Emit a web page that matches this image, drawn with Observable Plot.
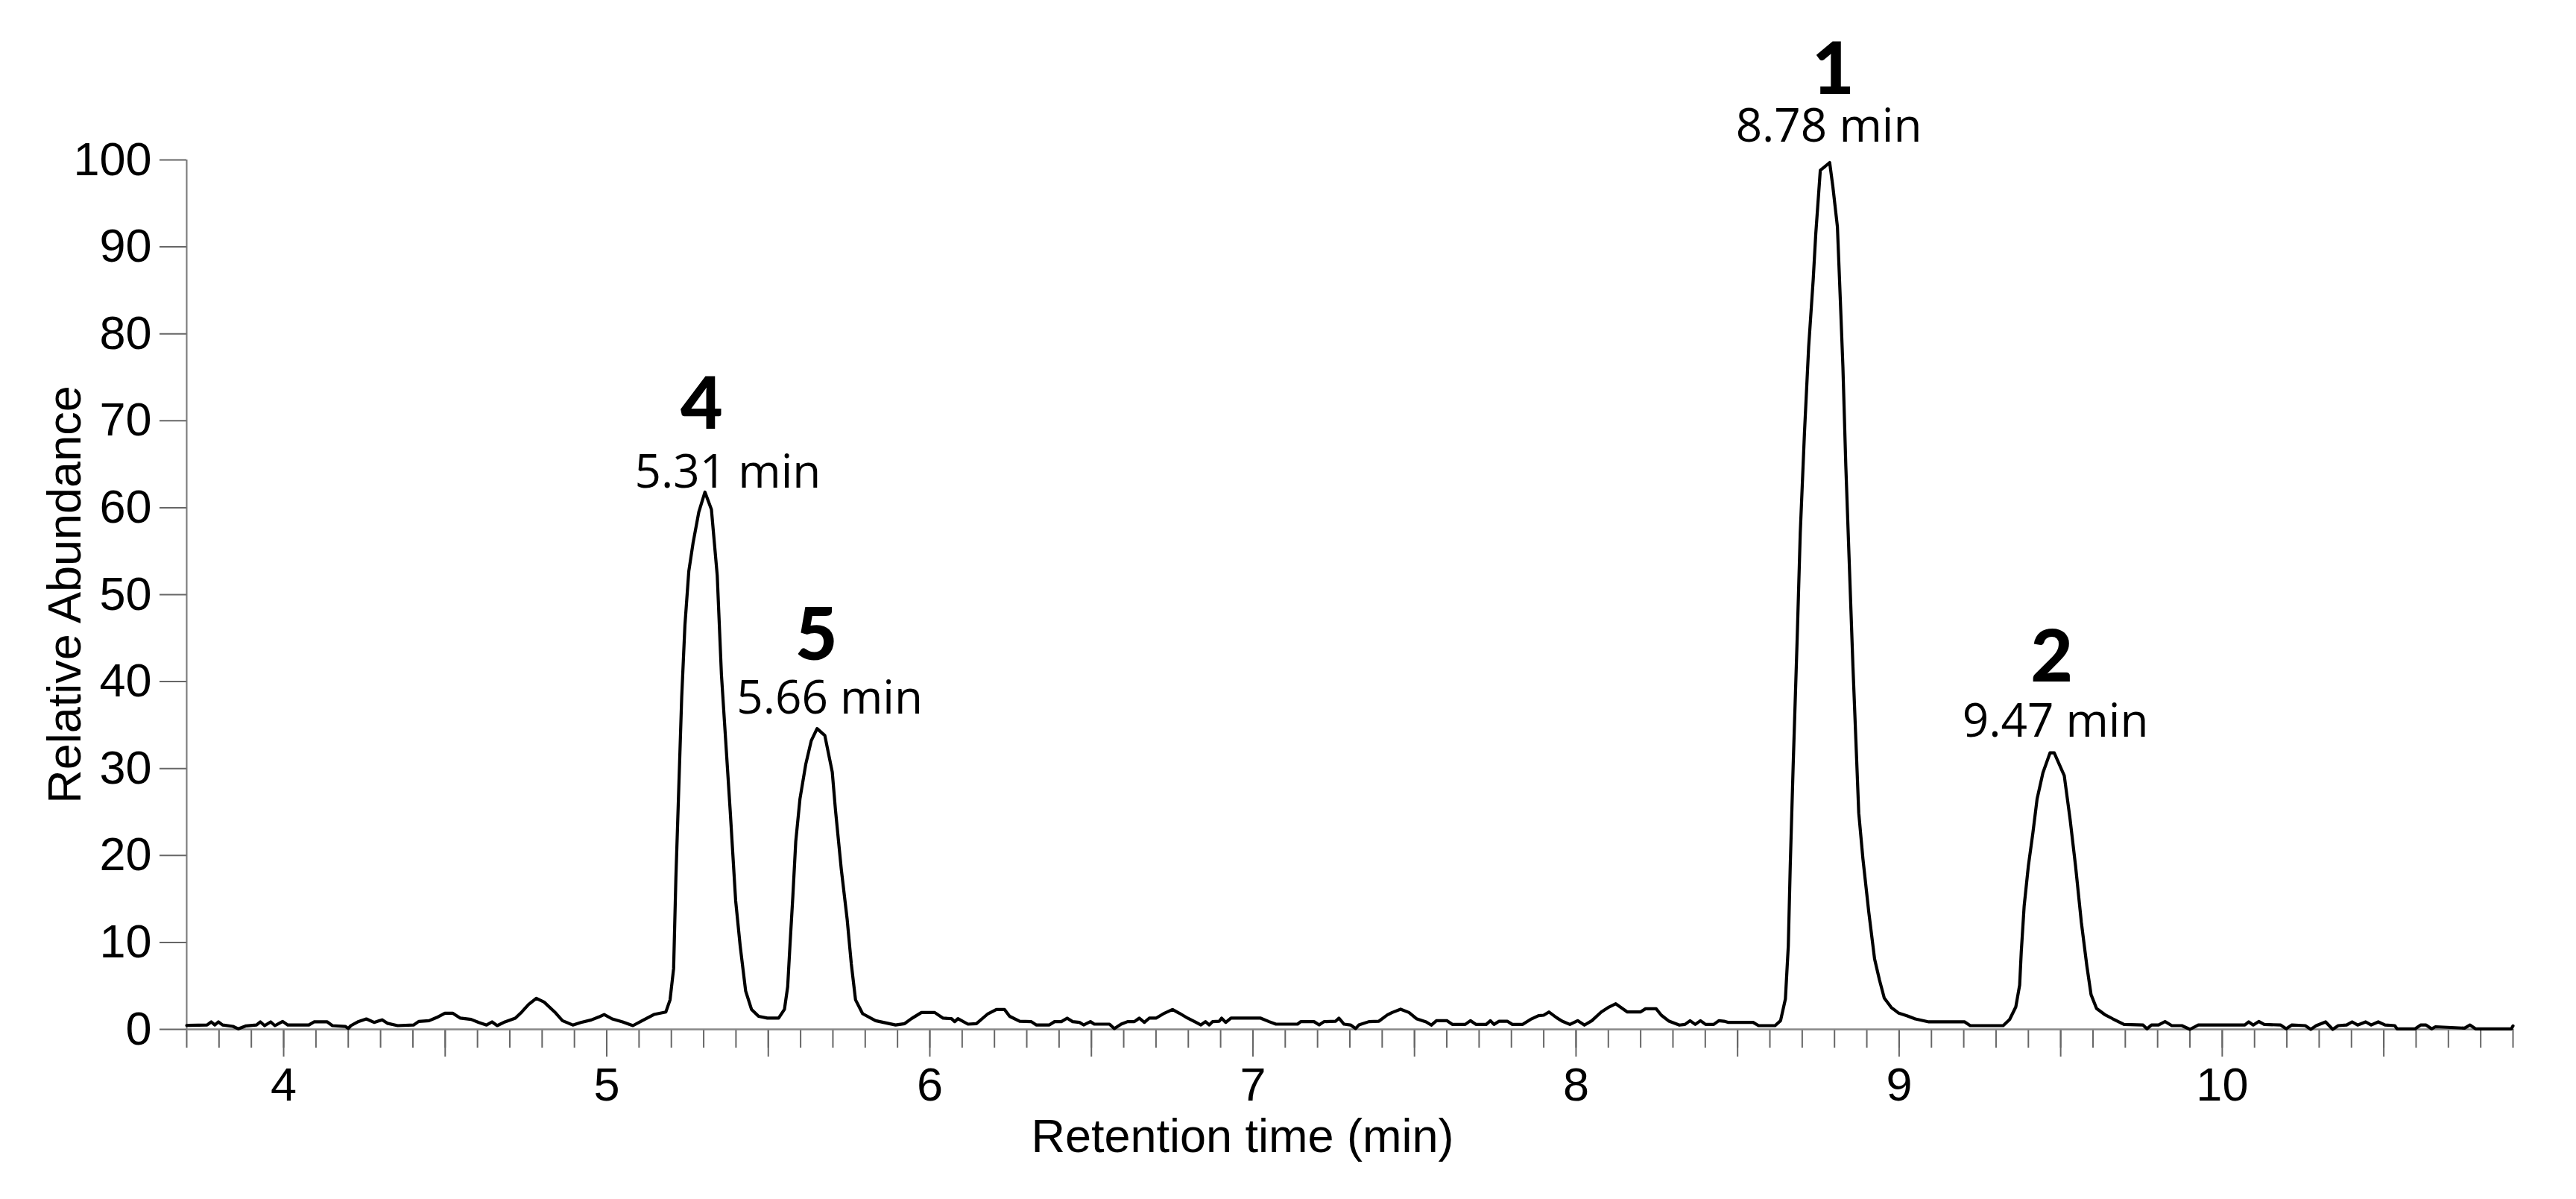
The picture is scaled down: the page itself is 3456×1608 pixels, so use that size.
<!DOCTYPE html>
<html><head><meta charset="utf-8">
<script src="https://cdn.jsdelivr.net/npm/d3@7"></script>
<script src="https://cdn.jsdelivr.net/npm/@observablehq/plot@0.6"></script>
<style>
html,body{margin:0;padding:0;background:#fff;}
#chart{width:3456px;height:1608px;overflow:hidden;}
</style></head><body><div id="chart"></div>
<script>
// ---- data ----
const retentionTime = [
3.70,3.763,3.776,3.787,3.798,3.811,3.843,3.860,3.884,3.916,3.928,3.941,3.960,3.973,3.997,4.013,4.078,4.094,4.135,4.151,4.191,4.200,4.208,4.232,4.256,4.280,4.305,4.321,4.353,4.402,4.418,4.450,4.474,4.499,4.523,4.547,4.580,4.604,4.628,4.645,4.661,4.685,4.717,4.737,4.758,4.782,4.806,4.839,4.863,4.895,4.920,4.952,4.976,4.992,5.017,5.049,5.081,5.114,5.146,5.183,
5.196,5.207,5.214,5.223,5.232,5.242,5.254,5.267,5.285,5.304,5.324,5.342,5.355,5.364,5.382,5.399,5.413,5.430,5.448,5.470,5.497,5.532,5.550,5.560,5.567,5.576,5.585,5.598,5.616,5.633,5.651,5.675,5.698,5.708,5.726,5.744,5.757,5.770,5.792,5.832,5.894,
5.922,5.943,5.974,6.015,6.041,6.067,6.077,6.087,6.118,6.144,6.180,6.206,6.231,6.247,6.278,6.314,6.329,6.370,6.386,6.407,6.425,6.442,6.463,6.476,6.497,6.509,6.556,6.571,6.592,6.612,6.633,6.648,6.664,6.679,6.700,6.726,6.751,6.772,6.798,6.824,6.839,6.853,6.865,6.875,6.896,6.903,6.916,6.932,7.024,7.050,7.071,7.138,7.148,7.189,7.205,7.220,7.256,7.266,7.282,7.302,7.318,7.328,7.359,7.390,7.416,7.431,7.457,7.483,7.506,
7.536,7.552,7.568,7.600,7.617,7.657,7.673,7.690,7.722,7.735,7.746,7.762,7.787,7.803,7.835,7.859,7.884,7.900,7.916,7.940,7.957,7.981,8.005,8.026,8.049,8.078,8.102,8.123,8.159,8.199,8.215,8.248,8.264,8.288,8.320,8.337,8.353,8.369,8.385,8.401,8.426,8.442,8.458,8.472,8.548,8.565,8.616,8.633,
8.648,8.657,8.663,8.672,8.685,8.694,8.707,8.720,8.734,8.742,8.756,8.769,8.785,8.795,8.809,8.818,8.826,8.835,8.846,8.857,8.866,8.875,8.888,8.906,8.924,8.939,8.954,8.976,8.999,9.024,9.050,9.092,9.203,9.220,9.322,9.342,9.361,9.373,9.378,9.387,9.400,9.414,9.427,9.445,9.467,9.480,9.511,9.529,9.546,9.564,9.581,9.594,9.611,9.636,9.662,9.696,9.755,9.767,9.781,9.803,9.823,9.844,9.875,9.900,9.926,
10.070,10.082,10.096,10.113,10.130,10.181,10.198,10.215,10.257,10.274,10.291,10.320,10.342,10.359,10.385,10.402,10.419,10.444,10.461,10.483,10.504,10.534,10.541,10.597,10.614,10.631,10.648,10.660,10.750,10.767,10.784,10.895,10.90
];
const relativeAbundance = [
0.45,0.5,0.86,0.5,0.86,0.5,0.34,0.06,0.4,0.5,0.86,0.43,0.86,0.43,0.91,0.5,0.5,0.86,0.86,0.43,0.34,0.1,0.43,0.91,1.2,0.8,1.1,0.7,0.43,0.5,0.91,1.0,1.37,1.86,1.86,1.29,1.15,0.8,0.5,0.86,0.43,0.86,1.29,2.0,2.86,3.57,3.14,2.0,1.0,0.5,0.8,1.08,1.43,1.71,1.2,0.86,0.43,1.08,1.71,2.0,
3.4,7.0,17.4,27.8,38.2,46.5,52.7,55.9,59.5,61.8,59.8,52.2,40.8,35.6,25.2,14.8,9.6,4.4,2.3,1.5,1.3,1.3,2.3,4.9,9.6,15.3,21.6,26.5,30.5,33.2,34.6,33.8,29.6,25.2,18.4,12.7,7.5,3.4,1.8,1.0,0.5,
0.66,1.23,1.94,1.94,1.29,1.23,0.89,1.23,0.6,0.66,1.8,2.29,2.29,1.5,0.94,0.89,0.51,0.51,0.89,0.89,1.29,0.89,0.8,0.51,0.89,0.6,0.6,0.09,0.6,0.89,0.89,1.29,0.8,1.29,1.29,1.86,2.29,1.86,1.29,0.8,0.51,0.89,0.51,0.89,0.94,1.29,0.8,1.29,1.29,0.89,0.6,0.6,0.89,0.89,0.51,0.89,0.94,1.29,0.6,0.51,0.09,0.51,0.89,0.94,1.66,1.94,2.32,1.94,1.23,
0.86,0.49,1.0,1.0,0.57,0.57,1.0,0.57,0.57,1.0,0.57,0.94,0.94,0.57,0.57,1.14,1.57,1.63,2.0,1.34,0.94,0.57,1.0,0.49,1.0,2.0,2.57,2.94,2.0,2.0,2.37,2.37,1.63,0.94,0.49,0.57,1.0,0.57,1.0,0.57,0.57,1.0,0.94,0.8,0.8,0.43,0.43,1.0,
3.5,9.6,18.8,30.3,45.6,57.1,68.6,78.5,86.2,91.5,98.8,99.2,99.7,96.9,92.3,83.9,76.2,64.8,53.3,41.8,33.4,24.9,19.6,13.5,8.1,5.7,3.6,2.5,1.86,1.57,1.2,0.86,0.86,0.43,0.43,1.14,2.57,5.1,8.9,14.2,18.8,22.6,26.5,29.5,31.8,31.8,29.2,24.2,18.8,12.3,7.3,4.0,2.4,1.71,1.2,0.57,0.5,0.06,0.5,0.5,0.9,0.43,0.43,0.0,0.5,
0.5,0.86,0.5,0.91,0.57,0.5,0.06,0.5,0.43,0.0,0.43,0.86,0.0,0.43,0.5,0.86,0.5,0.86,0.5,0.86,0.5,0.43,0.06,0.06,0.5,0.5,0.06,0.3,0.14,0.5,0.06,0.06,0.4
];
const peakNumbers = ["4", "5", "1", "2"];
const peakTimes = [5.31, 5.66, 8.78, 9.47];
const xTickLabels = [4, 5, 6, 7, 8, 9, 10];
const yTickValues = [0, 10, 20, 30, 40, 50, 60, 70, 80, 90, 100];
const xDomain = [3.7, 10.9];
const yDomain = [0, 100];
const xTitle = "Retention time (min)";
const yTitle = "Relative Abundance";

// ---- derived tables ----
const trace = retentionTime.map((t, i) => ({t, v: relativeAbundance[i]}));
const peaks = peakTimes.map((rt, i) => {
  const near = trace.filter(d => Math.abs(d.t - rt) < 0.06);
  return {num: peakNumbers[i], label: rt.toFixed(2) + " min", rt, apex: d3.max(near, d => d.v)};
});
const minorTicks = d3.range(37, 110).map(d => d / 10);
const halfTicks = d3.range(8, 22).map(d => d / 2);

// ---- styling ----
const axisFont = "'Liberation Sans', Arial, Helvetica, sans-serif";
const minDx = [28, 13, 1, 6], minDy = [-6, -20, -28, -22];
const numDx = [-7, -5, 7, 1], numDy = [-85, -92, -92, -96];

const labelMarks = [];
peaks.forEach((p, i) => {
  labelMarks.push(Plot.text([p], {x: "rt", y: "apex", text: "label", dx: minDx[i], dy: minDy[i],
    lineAnchor: "bottom", textAnchor: "middle", fontFamily: "'Open Sans', 'Noto Sans', sans-serif",
    fontSize: 62, fill: "#000"}));
  labelMarks.push(Plot.text([p], {x: "rt", y: "apex", text: "num", dx: numDx[i], dy: numDy[i],
    lineAnchor: "bottom", textAnchor: "middle", fontFamily: "Lato, 'Open Sans', sans-serif",
    fontWeight: 900, fontSize: 98, fill: "#000"}));
});

const chart = Plot.plot({
  width: 3456, height: 1608,
  marginLeft: 250, marginRight: 85, marginTop: 214, marginBottom: 228,
  x: {domain: xDomain},
  y: {domain: yDomain},
  style: {fontFamily: axisFont, fontSize: "63px", background: "#fff", color: "#000"},
  marks: [
    Plot.axisY({ticks: yTickValues, tickSize: 36, tickPadding: 11, stroke: "#666", strokeWidth: 2,
      label: null, fill: "#000", fontSize: 63}),
    Plot.axisX({ticks: minorTicks, tickSize: 25, tickFormat: () => "", label: null,
      stroke: "#666", strokeWidth: 2}),
    Plot.axisX({ticks: halfTicks, tickSize: 37, tickPadding: 14,
      tickFormat: d => xTickLabels.includes(d) ? String(d) : "", label: null,
      stroke: "#666", strokeWidth: 2, fill: "#000", fontSize: 63}),
    Plot.ruleX([xDomain[0]], {stroke: "#777", strokeWidth: 2}),
    Plot.ruleY([yDomain[0]], {stroke: "#888", strokeWidth: 2.5}),
    Plot.line(trace, {x: "t", y: "v", stroke: "#000", strokeWidth: 4.2, strokeLinejoin: "round", strokeLinecap: "round"}),
    ...labelMarks,
    Plot.text([yTitle], {frameAnchor: "left", rotate: -90, dx: -163, textAnchor: "middle",
      lineAnchor: "middle", fontSize: 63, fill: "#000"}),
    Plot.text([xTitle], {frameAnchor: "bottom", dx: -144, dy: 120, textAnchor: "middle",
      lineAnchor: "top", fontSize: 63, fill: "#000"})
  ]
});
document.getElementById("chart").appendChild(chart);
</script>
</body></html>
